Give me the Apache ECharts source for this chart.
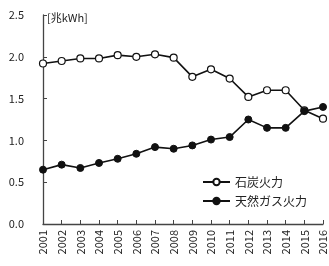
<!DOCTYPE html>
<html>
<head>
<meta charset="utf-8">
<script src="https://cdn.jsdelivr.net/npm/echarts@6/dist/echarts.min.js"></script>
<style>
  html, body { margin: 0; padding: 0; background: #fff; }
  #main { width: 329px; height: 266px; }
</style>
</head>
<body>
<div id="main"></div>
<script type="text/javascript">
    // 年
    var years = ['2001', '2002', '2003', '2004', '2005', '2006', '2007', '2008',
        '2009', '2010', '2011', '2012', '2013', '2014', '2015', '2016'];
    // 石炭火力 [兆kWh]
    var coal = [1.92, 1.95, 1.98, 1.98, 2.02, 2.00, 2.03, 1.99,
        1.76, 1.85, 1.74, 1.52, 1.60, 1.60, 1.36, 1.26];
    // 天然ガス火力 [兆kWh]
    var gas = [0.65, 0.71, 0.67, 0.73, 0.78, 0.84, 0.92, 0.90,
        0.94, 1.01, 1.04, 1.25, 1.15, 1.15, 1.35, 1.40];
    var yTicks = ['0.0', '0.5', '1.0', '1.5', '2.0', '2.5'];

    var font = '"Noto Sans CJK JP", "Noto Sans", sans-serif';
    var ink = '#222';

    var myChart = echarts.init(document.getElementById('main'));
    var option = {
        animation: false,
        backgroundColor: '#fff',
        textStyle: { fontFamily: font },
        grid: { left: 43, right: 6, top: 15, bottom: 42, containLabel: false },
        legend: {
            orient: 'vertical',
            left: 197,
            top: 171,
            itemWidth: 27,
            itemHeight: 8,
            itemGap: 7,
            textStyle: { fontSize: 12, color: ink, fontFamily: font },
            data: ['石炭火力', '天然ガス火力']
        },
        xAxis: {
            type: 'category',
            data: years,
            boundaryGap: false,
            axisLine: { lineStyle: { color: '#444', width: 1.3 } },
            axisTick: { inside: true, length: 4, alignWithLabel: true, lineStyle: { color: '#444' } },
            axisLabel: { rotate: 90, fontSize: 11, color: ink, margin: 6, interval: 0 }
        },
        yAxis: {
            type: 'value',
            min: 0,
            max: 2.5,
            interval: 0.5,
            name: '[兆kWh]',
            nameLocation: 'end',
            nameGap: -3,
            nameTextStyle: { fontSize: 11, color: ink, align: 'left', verticalAlign: 'middle', padding: [0, 0, 0, 4] },
            axisLine: { show: true, lineStyle: { color: '#444', width: 1.3 } },
            axisTick: { show: true, inside: true, length: 4, lineStyle: { color: '#444' } },
            splitLine: { show: false },
            axisLabel: {
                fontSize: 11, color: ink, margin: 19,
                formatter: function (v) { return yTicks[Math.round(v / 0.5)]; }
            }
        },
        series: [
            {
                name: '石炭火力',
                type: 'line',
                data: coal,
                symbol: 'circle',
                symbolSize: 7,
                lineStyle: { color: '#111', width: 1.6 },
                itemStyle: { color: '#fff', borderColor: '#111', borderWidth: 1.2 }
            },
            {
                name: '天然ガス火力',
                type: 'line',
                data: gas,
                symbol: 'circle',
                symbolSize: 7,
                lineStyle: { color: '#111', width: 1.6 },
                itemStyle: { color: '#111', borderColor: '#111', borderWidth: 1 }
            }
        ]
    };
    myChart.setOption(option);
</script>
</body>
</html>
